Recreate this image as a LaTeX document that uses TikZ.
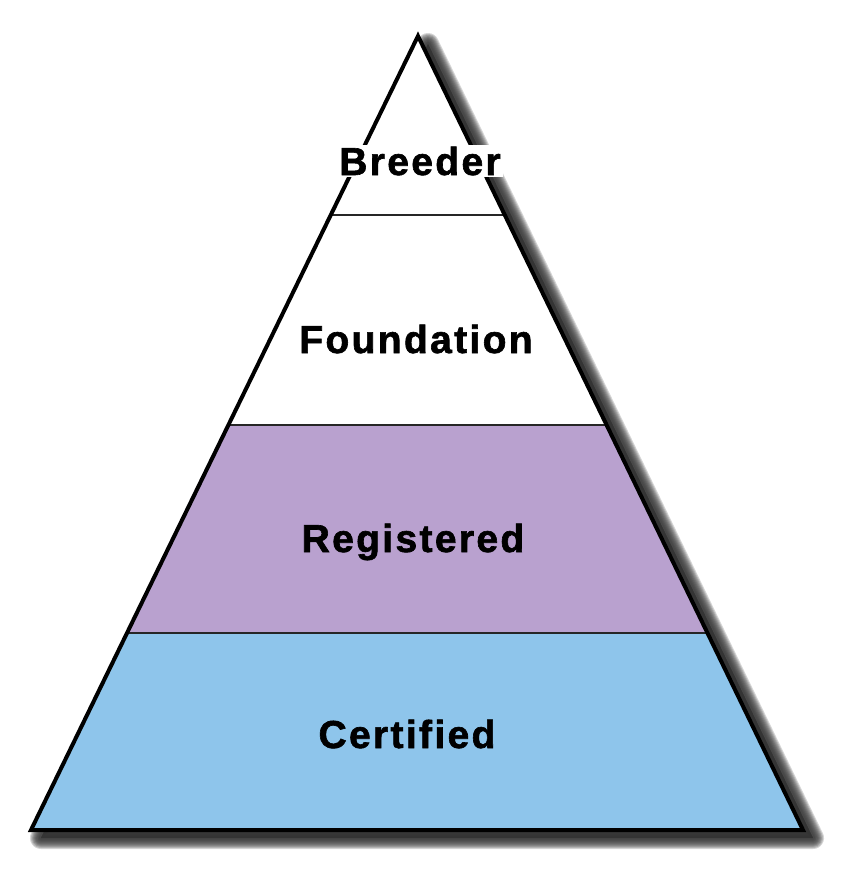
\documentclass[tikz,border=0pt]{standalone}
\usepackage{fontspec}
\setmainfont{Liberation Sans}[LetterSpace=6, BoldFeatures={FakeBold=1.6}]
\usetikzlibrary{calc}
\definecolor{regpurple}{RGB}{185,161,207}
\definecolor{certblue}{RGB}{142,197,235}
\definecolor{shadowgray}{RGB}{50,50,50}
\tikzset{
    tier/.style={font=\bfseries\fontsize{39}{39}\selectfont, inner sep=0pt, anchor=base},
    tiersep/.style={draw=black!85, line width=2pt}
}

\begin{document}
\begin{tikzpicture}[x=1pt, y=-1pt]
    \useasboundingbox (0,0) rectangle (846,871);
    \coordinate (apex) at (418,36);
    \coordinate (bl) at (31,830);
    \coordinate (br) at (803,830);
    \coordinate (l1) at ($(apex)!0.225!(bl)$);  \coordinate (r1) at ($(apex)!0.225!(br)$);
    \coordinate (l2) at ($(apex)!0.490!(bl)$);  \coordinate (r2) at ($(apex)!0.490!(br)$);
    \coordinate (l3) at ($(apex)!0.752!(bl)$);  \coordinate (r3) at ($(apex)!0.752!(br)$);
    % soft shadow
    \foreach \w in {4,6,...,22}
        \filldraw[shadowgray, opacity=0.2, line width=\w pt, line join=round]
            ([shift={(10,8)}]apex) -- ([shift={(10,8)}]bl) -- ([shift={(10,8)}]br) -- cycle;
    \fill[white] (apex) -- (bl) -- (br) -- cycle;
    \fill[regpurple] (l2) -- (l3) -- (r3) -- (r2) -- cycle;
    \fill[certblue] (l3) -- (bl) -- (br) -- (r3) -- cycle;
    \draw[tiersep] (l1) -- (r1);
    \draw[tiersep] (l2) -- (r2);
    \draw[tiersep] (l3) -- (r3);
    \draw[line width=4pt] (apex) -- (bl) -- (br) -- cycle;
    \node[tier, fill=white, inner sep=2pt] (breeder) at (420,175) {Breeder};
    \node[tier] (foundation) at (416,353) {Foundation};
    \node[tier] (registered) at (413,552) {Registered};
    \node[tier] (certified) at (407,748) {Certified};
\end{tikzpicture}
\end{document}
